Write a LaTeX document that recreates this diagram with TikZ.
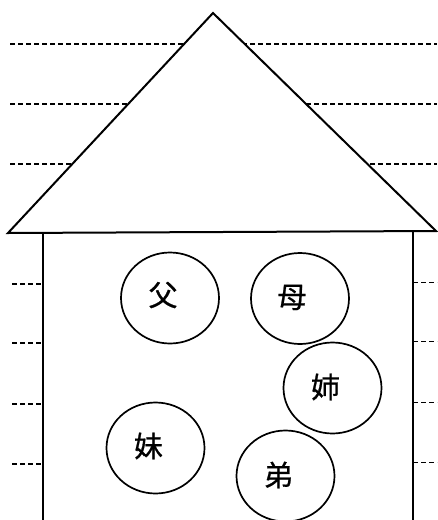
\documentclass[tikz,border=0pt]{standalone}
\usepackage{fontspec}
\newfontfamily\cjk{Noto Sans CJK JP}[FakeBold=0.8]
\usetikzlibrary{shapes.geometric}
\begin{document}
\begin{tikzpicture}[x=1pt,y=-1pt,
  guide/.style={line width=1.4pt,dash pattern=on 5pt off 3pt},
  housedraw/.style={line width=2pt,line join=miter},
  member/.style={draw,ellipse,line width=1.7pt,minimum width=98pt,minimum height=91pt,inner sep=0pt},
  glyph/.style={font=\cjk\fontsize{29}{29}\selectfont,inner sep=0pt}]
\useasboundingbox (0,0) rectangle (437,520);
% guide lines
\foreach \y in {44,104,164} \draw[guide] (10,\y) -- (437,\y);
\foreach \y in {284,343,404,464} {
  \draw[guide] (12,\y) -- (43,\y);
  \draw[guide] (413,\y-1.5) -- (437,\y-1.5);
}
% roof
\coordinate (rl) at (8,233);
\coordinate (ra) at (213,13);
\coordinate (rr) at (436,231);
\filldraw[housedraw,fill=white] (rl) -- (ra) -- (rr) -- cycle;
% walls
\coordinate (wl) at (43,232);
\coordinate (wlb) at (43,521);
\coordinate (wr) at (413,231);
\coordinate (wrb) at (413,521);
\draw[housedraw] (wl) -- (wlb);
\draw[housedraw] (wr) -- (wrb);
% family
\node[member] (fa) at (170,298) {};
\node[member] (mo) at (300,298.5) {};
\node[member] (ane) at (332.5,388) {};
\node[member] (imo) at (155.5,448) {};
\node[member] (oto) at (285.5,476) {};
\node[glyph] (tfa) at ([xshift=-7pt,yshift=3pt]fa.center) {父};
\node[glyph] (tmo) at ([xshift=-8pt,yshift=1pt]mo.center) {母};
\node[glyph] (tane) at ([xshift=-7pt,yshift=1pt]ane.center) {姉};
\node[glyph] (timo) at ([xshift=-7pt,yshift=2pt]imo.center) {妹};
\node[glyph] (toto) at ([xshift=-7pt,yshift=1pt]oto.center) {弟};
\end{tikzpicture}
\end{document}
